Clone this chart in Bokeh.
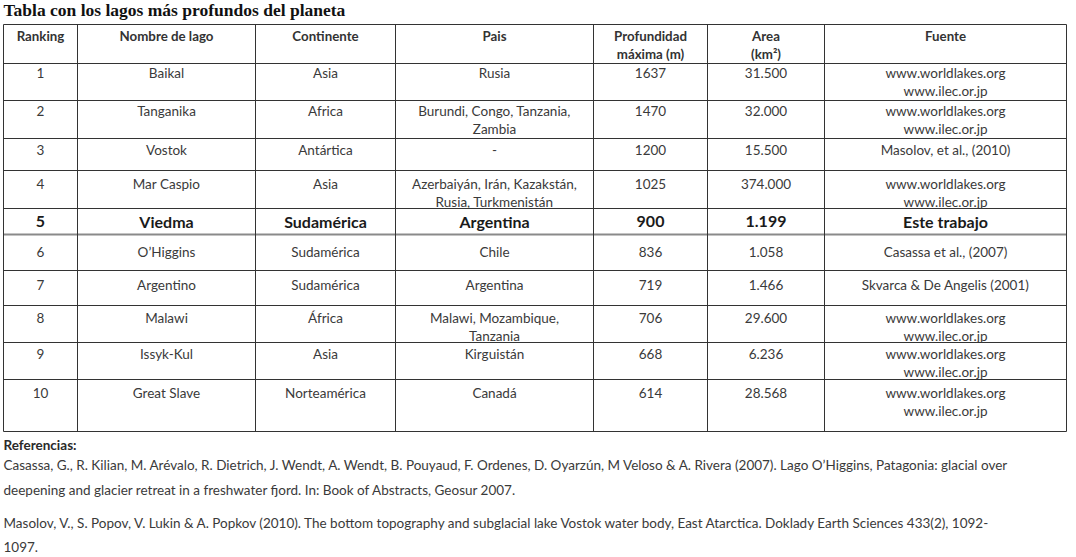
from bokeh.plotting import figure
from bokeh.models import ColumnDataSource, Range1d
from bokeh.core.properties import value
from bokeh.embed import file_html
from bokeh.resources import INLINE

# ---------------- data ----------------
titulo = "Tabla con los lagos más profundos del planeta"
encabezados = ["Ranking", "Nombre de lago", "Continente", "Pais",
               "Profundidad\nmáxima (m)", "Area\n(km²)", "Fuente"]
ranking = ["1", "2", "3", "4", "5", "6", "7", "8", "9", "10"]
lagos = ["Baikal", "Tanganika", "Vostok", "Mar Caspio", "Viedma", "O’Higgins",
         "Argentino", "Malawi", "Issyk-Kul", "Great Slave"]
continentes = ["Asia", "Africa", "Antártica", "Asia", "Sudamérica", "Sudamérica",
               "Sudamérica", "África", "Asia", "Norteamérica"]
paises = ["Rusia", "Burundi, Congo, Tanzania,\nZambia", "-",
          "Azerbaiyán, Irán, Kazakstán,\nRusia, Turkmenistán", "Argentina", "Chile",
          "Argentina", "Malawi, Mozambique,\nTanzania", "Kirguistán", "Canadá"]
profundidad = [1637, 1470, 1200, 1025, 900, 836, 719, 706, 668, 614]
area = ["31.500", "32.000", "15.500", "374.000", "1.199", "1.058", "1.466",
        "29.600", "6.236", "28.568"]
fuentes = ["www.worldlakes.org\nwww.ilec.or.jp", "www.worldlakes.org\nwww.ilec.or.jp",
           "Masolov, et al., (2010)", "www.worldlakes.org\nwww.ilec.or.jp",
           "Este trabajo", "Casassa et al., (2007)", "Skvarca & De Angelis (2001)",
           "www.worldlakes.org\nwww.ilec.or.jp", "www.worldlakes.org\nwww.ilec.or.jp",
           "www.worldlakes.org\nwww.ilec.or.jp"]
fila_destacada = 4  # Viedma (este trabajo)
referencias_titulo = "Referencias:"
referencias = [
    "Casassa, G., R. Kilian, M. Arévalo, R. Dietrich, J. Wendt, A. Wendt, B. Pouyaud, F. Ordenes, D. Oyarzún, M Veloso &  A. Rivera (2007). Lago O’Higgins, Patagonia: glacial over",
    "deepening and glacier retreat in a freshwater fjord. In: Book of Abstracts, Geosur 2007.",
    "Masolov, V., S. Popov, V. Lukin & A. Popkov (2010). The bottom topography and subglacial lake Vostok water body, East Atarctica. Doklady Earth Sciences 433(2), 1092-",
    "1097.",
]

# ---------------- layout ----------------
W, H = 1068, 553
col_x = [3, 77, 255, 395, 593, 707, 824, 1066]
row_y = [24, 63, 100, 138, 170, 208, 234, 270, 305, 342, 379, 431]
header_y = 35
text_y = [72, 110, 149, 183, 221, 251, 284, 317, 353, 392]
line_gap = 18
ref_title_y = 444
ref_y = [464, 489, 522, 546]
FONT = "Lato"

p = figure(width=W, height=H, x_range=Range1d(0, W), y_range=Range1d(H, 0),
           output_backend="svg", toolbar_location=None, min_border=0,
           background_fill_color="white", border_fill_color="white")
p.axis.visible = False
p.grid.visible = False
p.outline_line_color = None

# table grid
hl = ColumnDataSource(dict(x0=[col_x[0]] * len(row_y), x1=[col_x[-1]] * len(row_y),
                           y=row_y))
p.segment(x0="x0", y0="y", x1="x1", y1="y", source=hl, line_color="#333333", line_width=1)
p.segment(x0=[col_x[0]], y0=[row_y[6]], x1=[col_x[-1]], y1=[row_y[6]],
          line_color="#8a8a8a", line_width=2)
vl = ColumnDataSource(dict(x=col_x, y0=[row_y[0]] * len(col_x), y1=[row_y[-1]] * len(col_x)))
p.segment(x0="x", y0="y0", x1="x", y1="y1", source=vl, line_color="#333333", line_width=1)

centers = [(col_x[i] + col_x[i + 1]) / 2 for i in range(len(col_x) - 1)]
columnas = [ranking, lagos, continentes, paises, [str(v) for v in profundidad], area, fuentes]


def cells(texts_y):
    xs, ys, ts = [], [], []
    for (cx, txt, y0) in texts_y:
        for k, line in enumerate(txt.split("\n")):
            xs.append(cx)
            ys.append(y0 + k * line_gap)
            ts.append(line)
    return ColumnDataSource(dict(x=xs, y=ys, t=ts))


# header
hdr = cells([(centers[j], encabezados[j], header_y) for j in range(len(encabezados))])
p.text(x="x", y="y", text="t", source=hdr, text_font=value(FONT), text_font_style="bold",
       text_font_size="13.3px", text_color="#333333", text_align="center",
       text_baseline="middle")

# body (regular rows)
reg = []
for i in range(len(ranking)):
    if i == fila_destacada:
        continue
    for j, col in enumerate(columnas):
        reg.append((centers[j], col[i], text_y[i]))
p.text(x="x", y="y", text="t", source=cells(reg), text_font=value(FONT),
       text_font_size="13.5px", text_color="#3a3a3a", text_align="center",
       text_baseline="middle")

# highlighted row
hi = [(centers[j], col[fila_destacada], text_y[fila_destacada]) for j, col in enumerate(columnas)]
p.text(x="x", y="y", text="t", source=cells(hi), text_font=value(FONT), text_font_style="bold",
       text_font_size="16px", text_color="#1a1a1a", text_align="center",
       text_baseline="middle")

# title
p.text(x=[3], y=[9], text=[titulo], text_font=value("Liberation Serif"), text_font_style="bold",
       text_font_size="17.5px", text_color="#111111", text_align="left", text_baseline="middle")

# references
p.text(x=[3], y=[ref_title_y], text=[referencias_titulo], text_font=value(FONT),
       text_font_style="bold", text_font_size="13.5px", text_color="#2a2a2a",
       text_align="left", text_baseline="middle")
p.text(x=[3] * len(referencias), y=ref_y, text=referencias, text_font=value(FONT),
       text_font_size="13.5px", text_color="#3a3a3a", text_align="left", text_baseline="middle")

open("out.html", "w").write(file_html(p, INLINE))
